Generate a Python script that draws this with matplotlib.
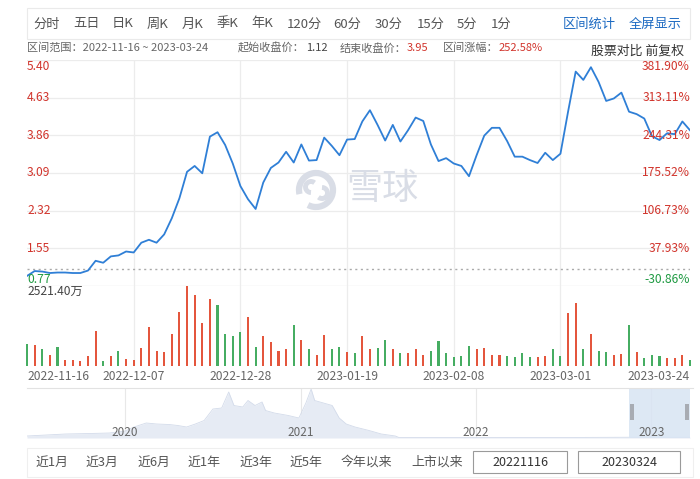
import matplotlib.pyplot as plt
from matplotlib.patches import Rectangle, Arc
from matplotlib.transforms import blended_transform_factory

plt.rcParams['font.family'] = ['Noto Sans CJK SC', 'DejaVu Sans']

W, H = 700, 479

# ---- data ----
base_price = 1.12
pct_ticks = [-30.86, 37.93, 106.73, 175.52, 244.31, 313.11, 381.90]
price_labels = ['0.77', '1.55', '2.32', '3.09', '3.86', '4.63', '5.40']
pct_labels = ['-30.86%', '37.93%', '106.73%', '175.52%', '244.31%', '313.11%', '381.90%']

date_labels = ['2022-11-16', '2022-12-07', '2022-12-28', '2023-01-19',
               '2023-02-08', '2023-03-01', '2023-03-24']
date_idx = [0, 14, 28, 42, 56, 70, 87]

close = [0.98, 1.08, 1.07, 1.04, 1.05, 1.05, 1.04, 1.04, 1.09, 1.29,
         1.25, 1.38, 1.40, 1.48, 1.46, 1.66, 1.72, 1.66, 1.83, 2.16,
         2.57, 3.11, 3.23, 3.08, 3.83, 3.92, 3.66, 3.28, 2.82, 2.55,
         2.35, 2.89, 3.19, 3.30, 3.52, 3.30, 3.67, 3.34, 3.35, 3.81,
         3.64, 3.45, 3.77, 3.78, 4.14, 4.37, 4.07, 3.75, 4.07, 3.73,
         3.96, 4.22, 4.15, 3.67, 3.33, 3.39, 3.28, 3.23, 3.02, 3.45,
         3.85, 4.01, 4.01, 3.74, 3.42, 3.42, 3.35, 3.29, 3.50, 3.35,
         3.48, 4.34, 5.16, 4.99, 5.25, 4.95, 4.56, 4.61, 4.73, 4.34,
         4.29, 4.20, 3.84, 3.76, 3.90, 3.88, 4.14, 3.96]

# volume in 万
volume = [699, 667, 540, 360, 614, 191, 191, 170, 318, 1102,
          159, 318, 487, 233, 191, 561, 1218, 477, 445, 1006,
          1706, 2521.4, 2225, 1356, 2119, 1918, 1017, 953, 1059, 1547,
          593, 932, 752, 477, 540, 1303, 805, 540, 339, 985,
          540, 604, 445, 403, 932, 530, 583, 826, 551, 403,
          403, 530, 339, 477, 773, 403, 275, 318, 636, 540,
          583, 350, 339, 318, 275, 424, 297, 297, 318, 530,
          318, 1674, 1992, 540, 1017, 477, 456, 350, 371, 1282,
          456, 244, 339, 328, 265, 244, 360, 191]
vol_max_label = '2521.40万'
# r = up day, g = down day
vol_dir = ('grgrgrrrrr' 'grgrrrrrrr' 'rrrrrggggr' 'grrrrgrgrr'
           'ggrgrrggrg' 'rrrggggggr' 'rrrggggrrg' 'grrgrggrrg'
           'rggg' 'rrrg')

# long history shown in the navigator (decimal year, relative height)
nav_year = [2019.44, 2019.55, 2019.66, 2019.80, 2019.91, 2020.00, 2020.05, 2020.12,
            2020.18, 2020.25, 2020.30, 2020.35, 2020.40, 2020.45, 2020.50, 2020.55,
            2020.59, 2020.62, 2020.67, 2020.70, 2020.74, 2020.78, 2020.80, 2020.85,
            2020.93, 2020.99, 2021.03, 2021.06, 2021.08, 2021.13, 2021.18, 2021.22,
            2021.26, 2021.31, 2021.39, 2021.46, 2021.54, 2021.56, 2022.00, 2022.50,
            2022.88, 2023.22]
nav_val = [4, 6, 8, 9, 10, 14, 22, 30, 28, 27, 25, 22, 28, 35, 58, 60,
           92, 65, 62, 75, 65, 72, 55, 50, 45, 40, 70, 98, 75, 70, 65, 40,
           28, 22, 15, 8, 4, 1, 1, 1, 1.5, 1.5]
nav_years = [2020, 2021, 2022, 2023]
sel_start, sel_end = 2022.875, 2023.225

tabs = ['分时', '五日', '日K', '周K', '月K', '季K', '年K', '120分', '60分', '30分', '15分', '5分', '1分']
tab_x = [33, 73, 112, 147, 182, 217, 251, 287, 333, 375, 417, 457, 491]
ranges = ['近1月', '近3月', '近6月', '近1年', '近3年', '近5年', '今年以来', '上市以来']
range_x = [35, 86, 137, 187, 239, 290, 341, 411]

RED = '#d1342c'
GREEN = '#1f9a42'
BAR_RED = '#e4563d'
BAR_GREEN = '#46ad62'
BLUE = '#2f7fd6'
GRID = '#ececec'
GRAY = '#666666'


def fx(px):
    return px / W


def fy(py):
    return 1 - py / H


fig = plt.figure(figsize=(W / 100, H / 100), dpi=100)
fig.patch.set_facecolor('white')

# ---- top tab bar ----
fig.add_artist(Rectangle((fx(27), fy(39)), fx(663), 31 / H, transform=fig.transFigure,
                         fill=False, edgecolor='#eaeaea', lw=0.8))
for t, x in zip(tabs, tab_x):
    fig.text(fx(x), fy(24), t, fontsize=9.5, color='#555555', va='center', ha='left')
fig.text(fx(563), fy(24), '区间统计', fontsize=9.5, color='#1e6bc2', va='center')
fig.text(fx(629), fy(24), '全屏显示', fontsize=9.5, color='#1e6bc2', va='center')

# ---- info row ----
iy = fy(48)
fig.text(fx(27), iy, '区间范围：2022-11-16 ~ 2023-03-24', fontsize=8, color=GRAY, va='center')
fig.text(fx(238), iy, '起始收盘价：', fontsize=8, color=GRAY, va='center')
fig.text(fx(306), iy, '1.12', fontsize=8, color='#444444', va='center')
fig.text(fx(340), iy, '结束收盘价：', fontsize=8, color=GRAY, va='center')
fig.text(fx(407), iy, '3.95', fontsize=8, color=RED, va='center')
fig.text(fx(443), iy, '区间涨幅：', fontsize=8, color=GRAY, va='center')
fig.text(fx(499), iy, '252.58%', fontsize=8, color=RED, va='center')
fig.text(fx(684), fy(51), '股票对比 前复权', fontsize=9.3, color='#333333', va='center', ha='right')

# ---- price chart ----
n = len(close)
xs = list(range(n))
price_ticks = [base_price * (1 + p / 100) for p in pct_ticks]

ax = fig.add_axes([fx(27), fy(286), fx(663), 226 / H])
ax.set_xlim(0, n - 1)
ax.set_ylim(price_ticks[0], price_ticks[-1])
ax.axis('off')
for yv in price_ticks[1:]:
    ax.axhline(yv, color=GRID, lw=0.9, zorder=0)
ax.axhline(price_ticks[0], color='#dcdcdc', lw=0.9, zorder=0)
ax.axhline(base_price, color='#aaaaaa', lw=1.0, ls=(0, (1.5, 2.5)), zorder=1)
for i in date_idx[1:-1]:
    ax.axvline(i, color=GRID, lw=0.9, zorder=0)

# watermark (logo ring + text)
wm = '#d9dde6'
fig.add_artist(Arc((fx(316), fy(190)), 34 / W, 34 / H, theta1=250, theta2=200,
                   transform=fig.transFigure, edgecolor=wm, lw=4.5, zorder=1))
fig.add_artist(Arc((fx(311), fy(187)), 11 / W, 11 / H, theta1=60, theta2=270,
                   transform=fig.transFigure, edgecolor=wm, lw=3.5, zorder=1))
fig.add_artist(Arc((fx(322), fy(193)), 11 / W, 11 / H, theta1=240, theta2=90,
                   transform=fig.transFigure, edgecolor=wm, lw=3.5, zorder=1))
fig.text(fx(382), fy(189), '雪球', fontsize=26, color=wm, ha='center', va='center', zorder=1)

ax.plot(xs, close, color=BLUE, lw=1.3, zorder=3)

tr = blended_transform_factory(ax.transAxes, ax.transData)
for k, (yv, pl, ql) in enumerate(zip(price_ticks, price_labels, pct_labels)):
    va = 'center'
    if k == 0:
        va = 'bottom'
    elif k == len(price_ticks) - 1:
        va = 'top'
    col = GREEN if k == 0 else RED
    ax.text(0.0, yv, pl, transform=tr, fontsize=8.7, color=col, ha='left', va=va, zorder=4)
    ax.text(1.0, yv, ql, transform=tr, fontsize=8.7, color=col, ha='right', va=va, zorder=4)

# ---- volume chart ----
vax = fig.add_axes([fx(27), fy(366), fx(663), 80 / H])
vax.set_xlim(0, n - 1)
vax.set_ylim(0, max(volume))
vax.axis('off')
for i in date_idx[1:-1]:
    vax.axvline(i, color=GRID, lw=0.9, zorder=0)
bar_cols = [BAR_RED if c == 'r' else BAR_GREEN for c in vol_dir]
vax.bar(xs, volume, width=0.27, color=bar_cols, zorder=2, clip_on=False)
vax.text(0.0, 0.93, vol_max_label, transform=vax.transAxes, fontsize=8.7,
         color='#444444', ha='left', va='center')

dtr = blended_transform_factory(vax.transData, fig.transFigure)
for i, lab in zip(date_idx, date_labels):
    ha = 'center'
    if i == 0:
        ha = 'left'
    elif i == n - 1:
        ha = 'right'
    vax.text(i, fy(376), lab, transform=dtr, fontsize=8.7, color=GRAY, ha=ha, va='center')

# ---- navigator ----
nav = fig.add_axes([fx(27), fy(438), fx(663), 50 / H])
nav.set_xlim(nav_year[0], nav_year[-1])
nav.set_ylim(0, 100)
nav.axis('off')
nav.fill_between(nav_year, nav_val, color='#e6ebf4', lw=0, zorder=1)
nav.plot(nav_year, nav_val, color='#d3dbea', lw=0.6, zorder=2)
for yr in nav_years:
    nav.axvline(yr, color='#e8e8e8', lw=0.8, zorder=0)
    nav.text(yr, 12, str(yr), fontsize=8.5, color=GRAY, ha='center', va='center', zorder=3)
nav.axvspan(sel_start, sel_end, color='#d8e4f3', alpha=0.85, lw=0, zorder=2)
fig.add_artist(Rectangle((fx(630), fy(420)), 4 / W, 16 / H, transform=fig.transFigure,
                         color='#a8acb3', lw=0))
fig.add_artist(Rectangle((fx(685), fy(420)), 4 / W, 16 / H, transform=fig.transFigure,
                         color='#a8acb3', lw=0))
fig.add_artist(plt.Line2D([fx(27), fx(693)], [fy(388), fy(388)], transform=fig.transFigure,
                          color='#e2e2e2', lw=0.8))

# ---- range buttons ----
fig.add_artist(Rectangle((fx(27), fy(477)), fx(666), 29 / H, transform=fig.transFigure,
                         fill=False, edgecolor='#efefef', lw=0.8))
for t, x in zip(ranges, range_x):
    fig.text(fx(x), fy(462), t, fontsize=9.3, color='#555555', va='center', ha='left')
for x0, x1, t in [(473, 567, '20221116'), (578, 680, '20230324')]:
    fig.add_artist(Rectangle((fx(x0), fy(473)), fx(x1 - x0), 22 / H, transform=fig.transFigure,
                             fill=False, edgecolor='#9a9a9a', lw=0.8))
    fig.text(fx((x0 + x1) / 2), fy(462), t, fontsize=9, color='#333333', ha='center', va='center')

fig.savefig('out.png', dpi=100)
